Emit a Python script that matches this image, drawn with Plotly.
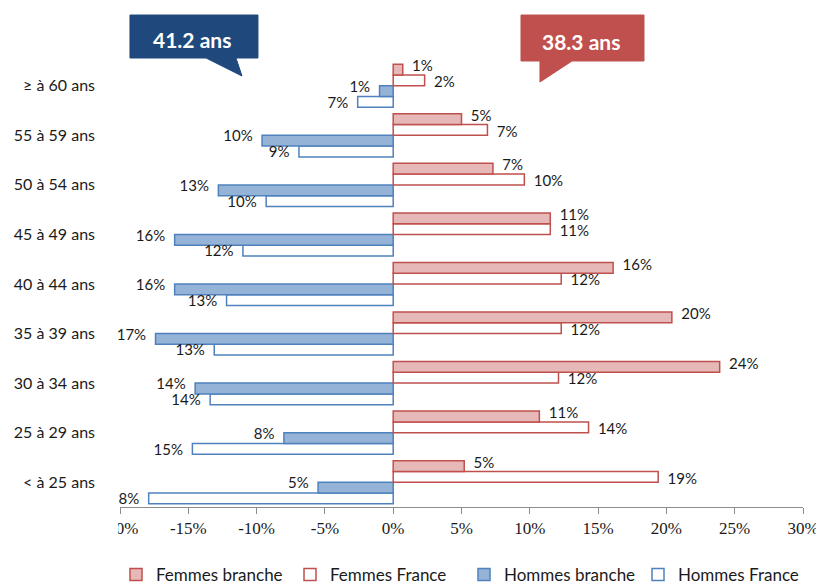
import plotly.graph_objects as go

# tranches d'âge, de bas en haut
categories = ["< à 25 ans", "25 à 29 ans", "30 à 34 ans", "35 à 39 ans", "40 à 44 ans",
              "45 à 49 ans", "50 à 54 ans", "55 à 59 ans", "≥ à 60 ans"]

femmes_branche = [5.2, 10.7, 23.9, 20.4, 16.1, 11.5, 7.3, 5.0, 0.7]
femmes_france = [19.4, 14.3, 12.1, 12.3, 12.3, 11.5, 9.6, 6.9, 2.3]
hommes_branche = [-5.5, -8.0, -14.5, -17.4, -16.0, -16.0, -12.8, -9.6, -1.0]
hommes_france = [-17.9, -14.7, -13.4, -13.1, -12.2, -11.0, -9.3, -6.9, -2.6]

femmes_branche_txt = ["5%", "11%", "24%", "20%", "16%", "11%", "7%", "5%", "1%"]
femmes_france_txt = ["19%", "14%", "12%", "12%", "12%", "11%", "10%", "7%", "2%"]
hommes_branche_txt = ["5%", "8%", "14%", "17%", "16%", "16%", "13%", "10%", "1%"]
hommes_france_txt = ["18%", "15%", "14%", "13%", "13%", "12%", "10%", "9%", "7%"]

tick_vals = [-20, -15, -10, -5, 0, 5, 10, 15, 20, 25, 30]
tick_text = ["%d%%" % v for v in tick_vals]

age_hommes = "41.2 ans"
age_femmes = "38.3 ans"

BLEU = "#4F81BD"
ROUGE = "#C0504D"
FONT = "Lato"

# la page html ajoute une marge de 8 px autour du graphique
OFF = 8
W, H = 824 - OFF, 587 - OFF

# zone de tracé en pixels (coordonnées de l'image de référence)
PL, PR, PT, PB = 120, 803, 61, 507
BARGAP = 0.13
PAD = "\u2002\u2009"  # écart entre barre et étiquette


def px(x):
    return (x - PL) / (PR - PL)


def py(y):
    return (PB - y) / (PB - PT)


def path(points):
    pts = ["%s%.4f,%.4f" % ("M" if i == 0 else "L", px(x), py(y)) for i, (x, y) in enumerate(points)]
    return " ".join(pts) + " Z"


pos = list(range(len(categories)))
slot = (1 - BARGAP) / 4

fig = go.Figure()

# ordre de bas en haut dans chaque tranche ; (décalage vertical de l'étiquette en pixels)
series = [
    ("Hommes France", hommes_france, hommes_france_txt, "white", BLEU, 2),
    ("Hommes branche", hommes_branche, hommes_branche_txt, "#95B3D7", BLEU, -3),
    ("Femmes France", femmes_france, femmes_france_txt, "white", ROUGE, 3),
    ("Femmes branche", femmes_branche, femmes_branche_txt, "#E6B9B8", ROUGE, -2),
]
cat_px = (PB - PT) / len(categories)
for k, (name, vals, txt, fill, line, dy) in enumerate(series):
    fig.add_trace(go.Bar(
        y=pos, x=vals, name=name, orientation="h",
        marker=dict(color=fill, line=dict(color=line, width=1.5)),
        hoverinfo="skip",
    ))
    centre = (k - 1.5) * slot - dy / cat_px
    left = vals[0] < 0
    fig.add_trace(go.Scatter(
        y=[p + centre for p in pos], x=vals, mode="text", showlegend=False,
        text=[(t + PAD) if left else (PAD + t) for t in txt],
        textposition="middle left" if left else "middle right",
        textfont=dict(family=FONT, size=15, color="#1a1a1a"),
        cliponaxis=False, hoverinfo="skip",
    ))

fig.update_layout(
    width=W, height=H,
    margin=dict(l=PL - OFF, r=824 - PR, t=PT - OFF, b=587 - PB, autoexpand=False),
    plot_bgcolor="white", paper_bgcolor="white",
    barmode="group", bargap=BARGAP, bargroupgap=0,
    font=dict(family=FONT, size=15, color="#1a1a1a"),
    showlegend=True,
    legend=dict(orientation="h", traceorder="reversed", x=px(116), xanchor="left",
                y=py(575), yanchor="middle", entrywidth=129, entrywidthmode="pixels",
                font=dict(family=FONT, size=17)),
)
fig.update_xaxes(range=[-20, 30], tickvals=tick_vals, ticktext=tick_text, automargin=False,
                 showgrid=False, zeroline=False, showline=True, linecolor="#8c8c8c",
                 ticks="outside", ticklen=6, tickcolor="#8c8c8c",
                 tickfont=dict(family="Liberation Serif", size=17, color="#1a1a1a"))
fig.update_yaxes(range=[-0.5, len(categories) - 0.5], tickvals=pos, ticktext=categories,
                 showgrid=False, zeroline=False, showline=False, ticks="", automargin=False,
                 ticklabelstandoff=24, tickfont=dict(family=FONT, size=16))

# découpe à gauche comme dans l'original
fig.add_shape(type="rect", xref="paper", yref="paper", layer="above",
              x0=px(99), x1=px(118), y0=py(548), y1=py(55),
              fillcolor="white", line=dict(width=0))

# bulles âge moyen
fig.add_shape(type="path", xref="paper", yref="paper", layer="above",
              path=path([(130, 15), (258, 15), (258, 58), (236, 58), (242, 76), (206, 58), (130, 58)]),
              fillcolor="#1F497D", line=dict(color="#1F497D", width=1))
fig.add_shape(type="path", xref="paper", yref="paper", layer="above",
              path=path([(521, 15), (644, 15), (644, 61), (572, 61), (540, 82), (540, 61), (521, 61)]),
              fillcolor=ROUGE, line=dict(color=ROUGE, width=1))
fig.add_annotation(xref="paper", yref="paper", x=px(192), y=py(39), xanchor="center", yanchor="middle",
                   text="<b>%s</b>" % age_hommes, showarrow=False,
                   font=dict(family=FONT, size=21, color="white"))
fig.add_annotation(xref="paper", yref="paper", x=px(581), y=py(41), xanchor="center", yanchor="middle",
                   text="<b>%s</b>" % age_femmes, showarrow=False,
                   font=dict(family=FONT, size=21, color="white"))

fig.write_html("out.html")
